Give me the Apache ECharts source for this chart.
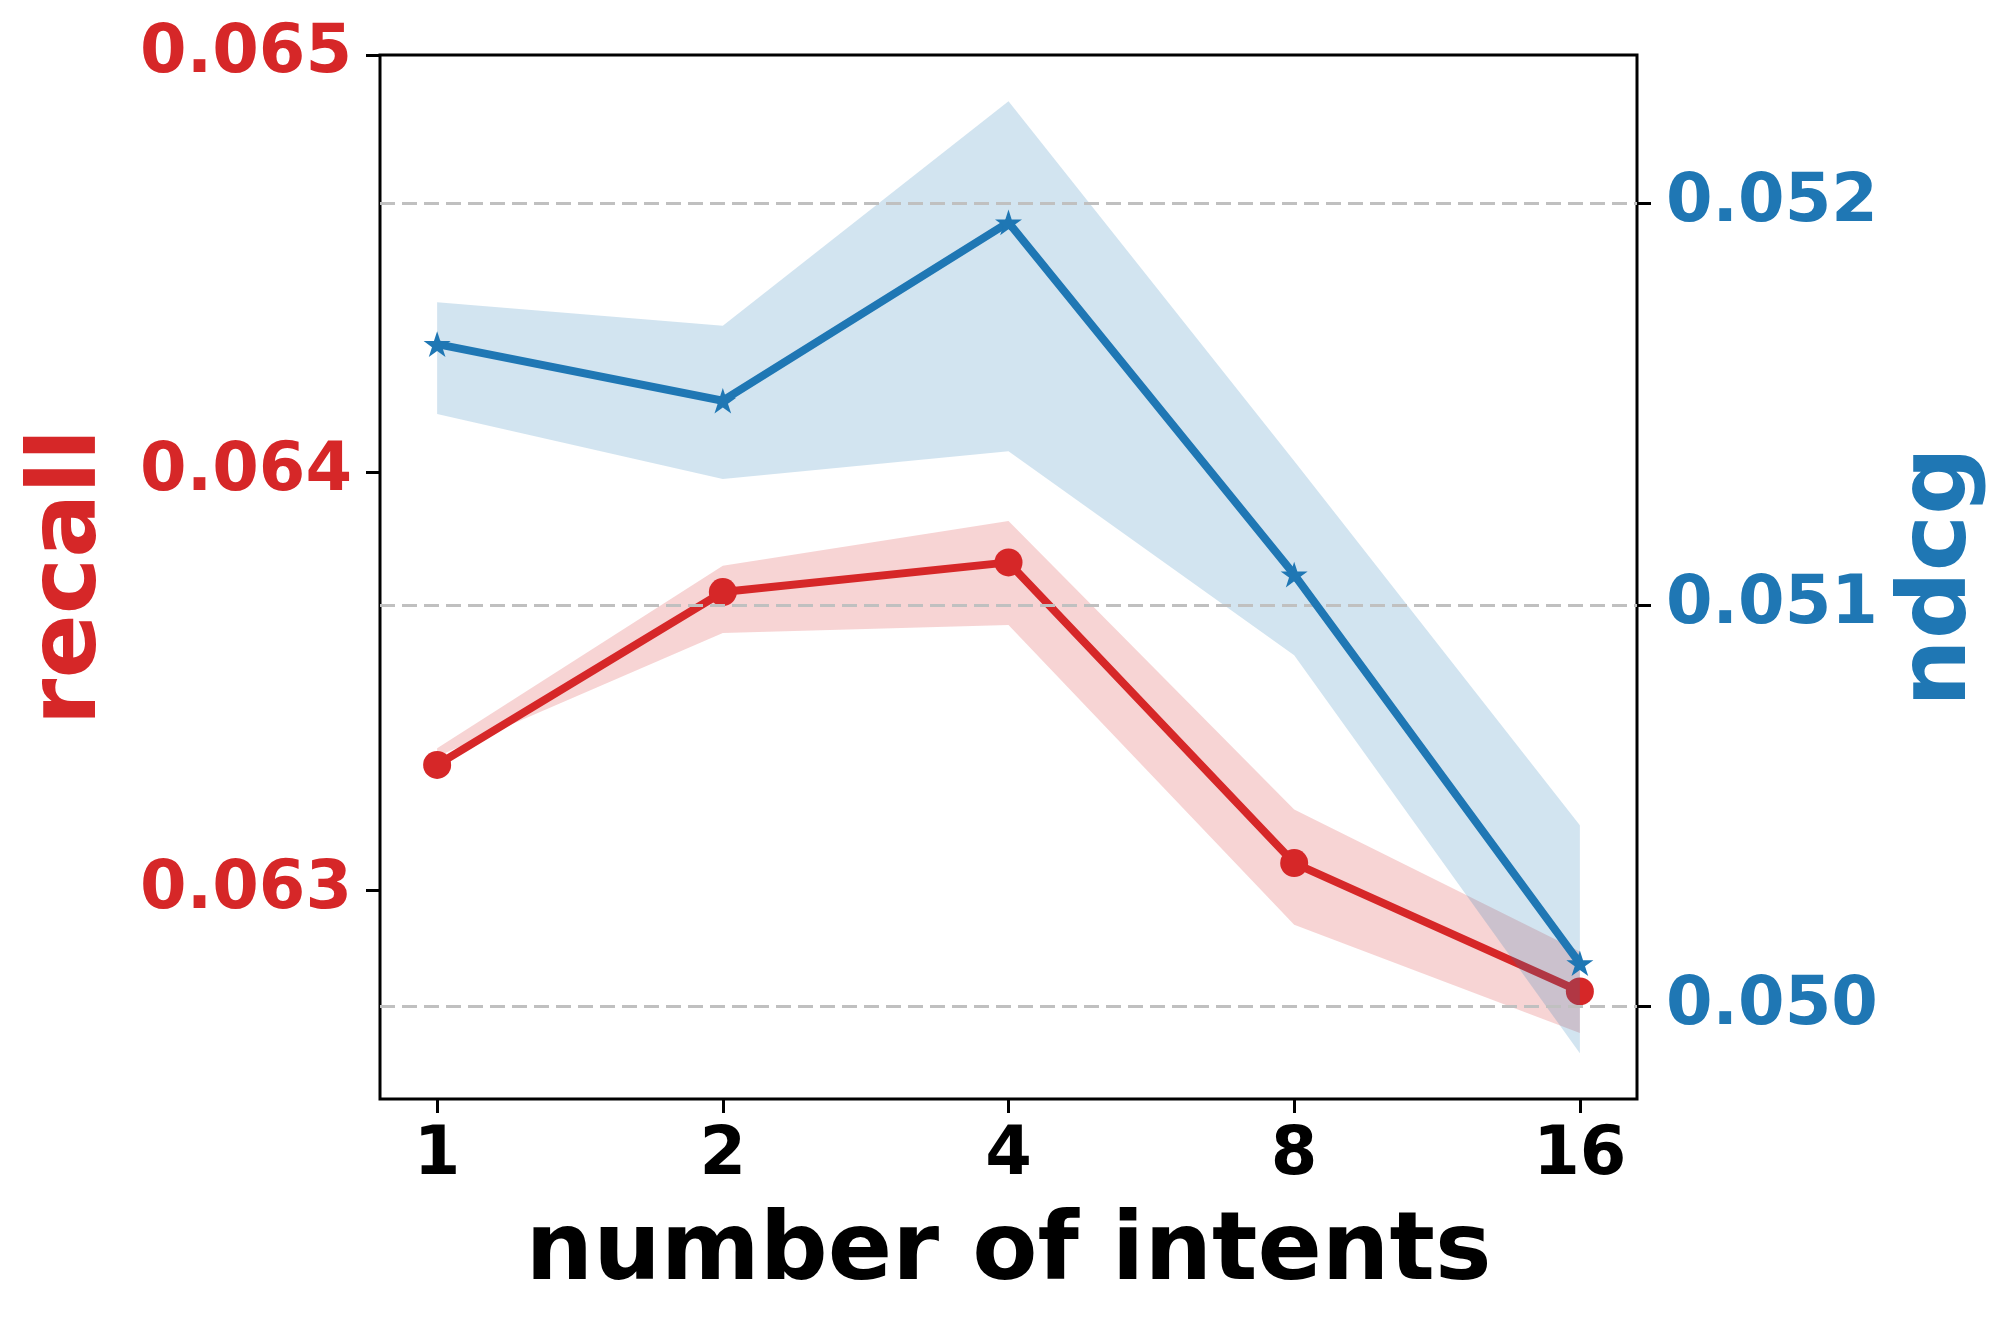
<!DOCTYPE html>
<html>
<head>
<meta charset="utf-8">
<script src="https://cdn.jsdelivr.net/npm/echarts@6/dist/echarts.min.js"></script>
<style>
  html, body { margin: 0; padding: 0; background: #fff; }
  #chart { width: 2016px; height: 1332px; }
</style>
</head>
<body>
<div id="chart"></div>
<script>
// data
const intents = [1, 2, 4, 8, 16];
const recall = [0.06330, 0.063714, 0.063785, 0.063065, 0.0627575];
const recallLow = [0.06332, 0.063616, 0.063635, 0.062917, 0.062658];
const recallHigh = [0.06334, 0.063777, 0.063884, 0.063193, 0.062853];
const ndcg = [0.051650, 0.051509, 0.051953, 0.051076, 0.050108];
const ndcgLow = [0.051476, 0.051314, 0.051383, 0.050875, 0.049884];
const ndcgHigh = [0.051754, 0.051696, 0.052255, 0.051359, 0.050452];
const recallTicks = [0.063, 0.064, 0.065];
const ndcgTicks = [0.050, 0.051, 0.052];

const RED = '#d62728';
const BLUE = '#1f77b4';
const FONT = 'DejaVu Sans';
const STAR = 'path://M0,-1 L0.2245,-0.309 L0.951,-0.309 L0.363,0.118 L0.588,0.809 L0,0.382 L-0.588,0.809 L-0.363,0.118 L-0.951,-0.309 L-0.2245,-0.309 Z';

let myChart = echarts.init(document.getElementById('chart'));

const xs = intents.map((v, i) => i);
const pairs = arr => arr.map((v, i) => [xs[i], v]);
const bandData = (lo, hi) => lo.map((v, i) => [xs[i], v, hi[i]]);

// one polygon through all band points, placed with the axis scales
function bandRenderer(lo, hi, color) {
    return function (params, api) {
        if (params.dataIndex !== lo.length - 1) return null;
        const top = hi.map((v, i) => api.coord([xs[i], v]));
        const bottom = lo.map((v, i) => api.coord([xs[i], v])).reverse();
        return {
            type: 'polygon',
            shape: { points: top.concat(bottom) },
            style: { fill: color, opacity: 0.2 }
        };
    };
}

const tickLabel = color => ({
    color: color,
    fontFamily: FONT,
    fontWeight: 'bold',
    fontSize: 67
});
const tickStyle = values => ({
    show: true,
    length: 14,
    lineStyle: { color: '#000', width: 3 },
    customValues: values
});

option = {
    animation: false,
    backgroundColor: '#fff',
    grid: {
        left: 380,
        right: 379,
        top: 55,
        bottom: 233,
        show: true,
        borderColor: '#000',
        borderWidth: 3,
        backgroundColor: 'transparent'
    },
    xAxis: {
        type: 'value',
        min: -0.2,
        max: 4.2,
        name: 'number of intents',
        nameLocation: 'middle',
        nameGap: 108,
        nameTextStyle: { color: '#000', fontFamily: FONT, fontWeight: 'bold', fontSize: 95 },
        axisLine: { show: false, onZero: false },
        splitLine: { show: false },
        axisTick: tickStyle(xs),
        axisLabel: Object.assign(tickLabel('#000'), {
            margin: 24,
            customValues: xs,
            formatter: v => String(intents[Math.round(v)])
        })
    },
    yAxis: [
        {
            type: 'value',
            position: 'left',
            min: 0.0625,
            max: 0.065,
            name: 'recall',
            nameLocation: 'middle',
            nameRotate: 90,
            nameGap: 262,
            nameTextStyle: { color: RED, fontFamily: FONT, fontWeight: 'bold', fontSize: 95 },
            axisLine: { show: false, onZero: false },
            splitLine: { show: false },
            axisTick: tickStyle(recallTicks),
            axisLabel: Object.assign(tickLabel(RED), {
                margin: 28,
                customValues: recallTicks,
                formatter: v => v.toFixed(3)
            })
        },
        {
            type: 'value',
            position: 'right',
            min: 0.04977,
            max: 0.05237,
            name: 'ndcg',
            nameLocation: 'middle',
            nameRotate: 90,
            nameGap: 256,
            nameTextStyle: { color: BLUE, fontFamily: FONT, fontWeight: 'bold', fontSize: 95 },
            axisLine: { show: false, onZero: false },
            splitLine: { show: false },
            axisTick: tickStyle(ndcgTicks),
            axisLabel: Object.assign(tickLabel(BLUE), {
                margin: 29,
                customValues: ndcgTicks,
                formatter: v => v.toFixed(3)
            })
        }
    ],
    series: [
        {
            name: 'recall-band',
            type: 'custom',
            yAxisIndex: 0,
            data: bandData(recallLow, recallHigh),
            encode: { x: 0, y: [1, 2] },
            renderItem: bandRenderer(recallLow, recallHigh, RED),
            silent: true,
            z: 1
        },
        {
            name: 'recall',
            type: 'line',
            yAxisIndex: 0,
            data: pairs(recall),
            symbol: 'circle',
            symbolSize: 28,
            lineStyle: { color: RED, width: 8 },
            itemStyle: { color: RED },
            z: 2
        },
        {
            name: 'ndcg-band',
            type: 'custom',
            yAxisIndex: 1,
            data: bandData(ndcgLow, ndcgHigh),
            encode: { x: 0, y: [1, 2] },
            renderItem: bandRenderer(ndcgLow, ndcgHigh, BLUE),
            silent: true,
            z: 3
        },
        {
            name: 'ndcg',
            type: 'line',
            yAxisIndex: 1,
            data: pairs(ndcg),
            symbol: STAR,
            symbolKeepAspect: true,
            symbolSize: 27,
            lineStyle: { color: BLUE, width: 8 },
            itemStyle: { color: BLUE },
            z: 5,
            markLine: {
                silent: true,
                symbol: 'none',
                z: 4,
                precision: 4,
                label: { show: false },
                lineStyle: { color: '#c0c0c0', width: 3, type: [15, 7] },
                data: ndcgTicks.map(v => ({ yAxis: v }))
            }
        }
    ]
};

myChart.setOption(option);
</script>
</body>
</html>
